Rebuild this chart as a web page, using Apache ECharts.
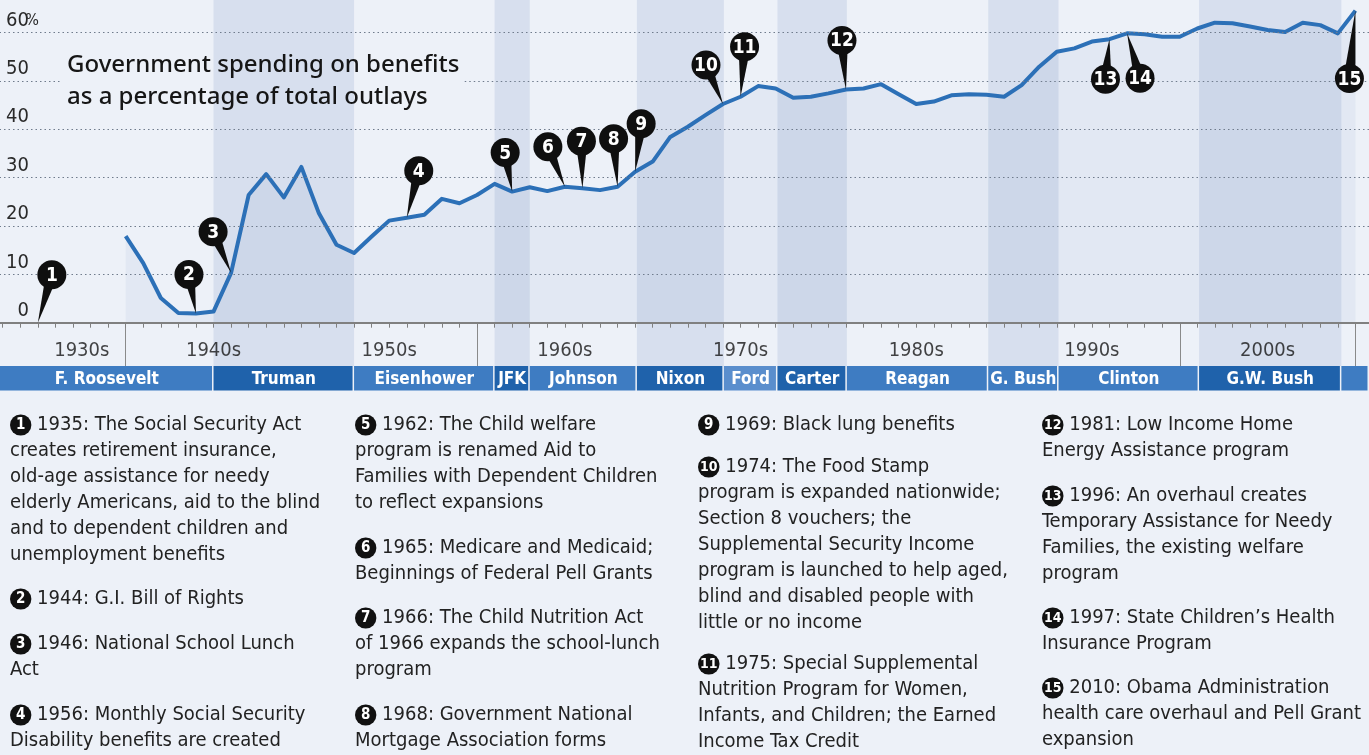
<!DOCTYPE html>
<html>
<head>
<meta charset="utf-8">
<script src="https://cdn.jsdelivr.net/npm/echarts@6/dist/echarts.min.js"></script>
<style>
  html, body { margin: 0; padding: 0; background: #edf1f8; }
  #chart { width: 1369px; height: 755px; }
</style>
</head>
<body>
<div id="chart"></div>
<script>
// Benefit spending as % of total federal outlays
const years = [1940, 1941, 1942, 1943, 1944, 1945, 1946, 1947, 1948, 1949,
               1950, 1951, 1952, 1953, 1954, 1955, 1956, 1957, 1958, 1959,
               1960, 1961, 1962, 1963, 1964, 1965, 1966, 1967, 1968, 1969,
               1970, 1971, 1972, 1973, 1974, 1975, 1976, 1977, 1978, 1979,
               1980, 1981, 1982, 1983, 1984, 1985, 1986, 1987, 1988, 1989,
               1990, 1991, 1992, 1993, 1994, 1995, 1996, 1997, 1998, 1999,
               2000, 2001, 2002, 2003, 2004, 2005, 2006, 2007, 2008, 2009,
               2010];
const benefitShare = [17.9, 12.3, 5.1, 2.0, 1.9, 2.3, 10.3, 26.4, 30.7, 25.9,
                      32.2, 22.6, 16.1, 14.4, 17.8, 21.1, 21.7, 22.3, 25.6, 24.7,
                      26.4, 28.7, 27.1, 28.0, 27.2, 28.1, 27.8, 27.4, 28.1, 31.2,
                      33.3, 38.4, 40.5, 42.9, 45.2, 46.7, 48.9, 48.4, 46.5, 46.7,
                      47.4, 48.2, 48.4, 49.3, 47.2, 45.2, 45.7, 47.0, 47.2, 47.1,
                      46.7, 49.1, 52.9, 56.0, 56.7, 58.1, 58.6, 59.8, 59.6, 59.1,
                      59.1, 60.8, 62.0, 61.9, 61.2, 60.5, 60.1, 62.0, 61.5, 59.8,
                      64.5];

// numbered events
const eventYears = [1935, 1944, 1946, 1956, 1962, 1965, 1966, 1968, 1969, 1974, 1975, 1981, 1996, 1997, 2010];
const eventTexts = [
  '1935: The Social Security Act\ncreates retirement insurance,\nold-age assistance for needy\nelderly Americans, aid to the blind\nand to dependent children and\nunemployment benefits',
  '1944: G.I. Bill of Rights',
  '1946: National School Lunch\nAct',
  '1956: Monthly Social Security\nDisability benefits are created',
  '1962: The Child welfare\nprogram is renamed Aid to\nFamilies with Dependent Children\nto reflect expansions',
  '1965: Medicare and Medicaid;\nBeginnings of Federal Pell Grants',
  '1966: The Child Nutrition Act\nof 1966 expands the school-lunch\nprogram',
  '1968: Government National\nMortgage Association forms',
  '1969: Black lung benefits',
  '1974: The Food Stamp\nprogram is expanded nationwide;\nSection 8 vouchers; the\nSupplemental Security Income\nprogram is launched to help aged,\nblind and disabled people with\nlittle or no income',
  '1975: Special Supplemental\nNutrition Program for Women,\nInfants, and Children; the Earned\nIncome Tax Credit',
  '1981: Low Income Home\nEnergy Assistance program',
  '1996: An overhaul creates\nTemporary Assistance for Needy\nFamilies, the existing welfare\nprogram',
  '1997: State Children\u2019s Health\nInsurance Program',
  '2010: Obama Administration\nhealth care overhaul and Pell Grant\nexpansion'
];

// presidents and term starts
const presidents = ['F. Roosevelt', 'Truman', 'Eisenhower', 'JFK', 'Johnson', 'Nixon', 'Ford',
                    'Carter', 'Reagan', 'G. Bush', 'Clinton', 'G.W. Bush', ''];
const termStarts = [1932.8, 1945.0, 1953.0, 1961.0, 1963.0, 1969.1, 1974.05,
                    1977.1, 1981.05, 1989.1, 1993.1, 2001.1, 2009.2];
const termEnds = termStarts.slice(1).concat([2012]);

const decades = ['1930s', '1940s', '1950s', '1960s', '1970s', '1980s', '1990s', '2000s'];
const decadeCenters = [1937.5, 1945, 1955, 1965, 1975, 1985, 1995, 2005]; // 1930s centred in the visible part

const yTicks = [0, 10, 20, 30, 40, 50, 60];

// ---- layout / style ----
const narrow = '"DejaVu Sans Condensed", "Liberation Sans Narrow", sans-serif';
const pinOffsets = [[14, -48], [-7, -39], [-18, -41], [12, -47], [-7, -39], [-17, -40], [-1, -47],
                    [-4, -48], [6, -48], [-17, -39], [4, -50], [-4, -49], [-4, 40], [13, 45], [-6, 68]];
const noteSpots = [[10, 412], [10, 586], [10, 631], [10, 702],
                   [355, 412], [355, 535], [355, 605], [355, 702],
                   [698, 412], [698, 454], [698, 651],
                   [1042, 412], [1042, 483], [1042, 605], [1042, 675]];
const titleGap = [1936.3, 1959.3];  // the 50 gridline breaks behind the title
const darkBand = [false, true, false, true, false, true, false, true, false, true, false, true, false];
const barColors = ['#3e7cc2', '#1f62ab', '#3e7cc2', '#1f62ab', '#3e7cc2', '#1f62ab', '#5a8ecd',
                   '#1f62ab', '#3e7cc2', '#3e7cc2', '#3e7cc2', '#1f62ab', '#3e7cc2'];
const gridDots = { type: [1.5, 3], color: '#6f7b8c', width: 1 };

const chart = echarts.init(document.getElementById('chart'));

function eventValue(yr) {
  const i = years.indexOf(yr);
  return i >= 0 ? benefitShare[i] : 0;
}

function shadeSeries(idx) {
  return {
    type: 'line', xAxisIndex: idx, yAxisIndex: idx, data: [], z: 0, silent: true,
    markArea: {
      silent: true,
      itemStyle: { color: '#d7dfee' },
      data: presidents.map((p, i) => [{ xAxis: termStarts[i] }, { xAxis: termEnds[i] }])
                      .filter((d, i) => darkBand[i])
    }
  };
}

// dotted gridlines, the 50 line split round the title
const gridLineData = [];
yTicks.forEach(v => {
  if (v === 0) return;
  if (v === 50) {
    gridLineData.push([{ coord: [1930, v] }, { coord: [titleGap[0], v] }]);
    gridLineData.push([{ coord: [titleGap[1], v] }, { coord: [2011, v] }]);
  } else {
    gridLineData.push([{ coord: [1930, v] }, { coord: [2011, v] }]);
  }
});

const gridBase = { left: -50, right: -4, outerBoundsMode: 'none', containLabel: false };

const option = {
  backgroundColor: '#edf1f8',
  animation: false,
  title: {
    text: 'Government spending on benefits\nas a percentage of total outlays',
    left: 58, top: 45,
    padding: [4, 9, 4, 9],
    textStyle: { fontFamily: '"Noto Sans", "Open Sans", sans-serif', fontSize: 24, lineHeight: 32, fontWeight: 500, color: '#161616' }
  },
  grid: [
    Object.assign({ top: -16, height: 338.7 }, gridBase),
    Object.assign({ top: 322.7, height: 43.3 }, gridBase),
    Object.assign({ top: 366, height: 24.5 }, gridBase)
  ],
  xAxis: [
    { gridIndex: 0, type: 'value', min: 1930, max: 2011, interval: 1, z: 2,
      axisLine: { lineStyle: { color: '#808080', width: 2 } },
      axisTick: { length: 5, lineStyle: { color: '#808080', width: 1 } },
      axisLabel: { show: false }, splitLine: { show: false } },
    { gridIndex: 1, type: 'value', min: 1930, max: 2011, interval: 10, z: 1,
      axisLine: { show: false }, axisTick: { show: false }, axisLabel: { show: false },
      splitLine: { show: true, lineStyle: { color: '#8a8a8a', width: 1 } } },
    { gridIndex: 2, type: 'value', min: 1930, max: 2011, show: false }
  ],
  yAxis: [
    { gridIndex: 0, type: 'value', min: 0, max: 70, interval: 10, z: 1,
      axisLine: { show: false }, axisTick: { show: false }, splitLine: { show: false },
      axisLabel: {
        inside: true, margin: 89, align: 'right', verticalAlign: 'bottom', padding: [0, 0, 2, 0],
        formatter: v => yTicks.indexOf(v) < 0 ? '' : (v === 60 ? '{n|60}{p|%}' : '{n|' + v + '}{s|}'),
        rich: {
          n: { fontFamily: narrow, fontSize: 20, color: '#2a2a2a' },
          p: { fontFamily: narrow, fontSize: 16, color: '#2a2a2a', width: 10 },
          s: { width: 10 }
        }
      } },
    { gridIndex: 1, type: 'value', min: 0, max: 1, show: false },
    { gridIndex: 2, type: 'value', min: 0, max: 1, show: false }
  ],
  series: [
    shadeSeries(0),
    shadeSeries(1),
    {
      name: 'Gridlines', type: 'line', xAxisIndex: 0, yAxisIndex: 0, data: [], z: 1, silent: true,
      markLine: { silent: true, symbol: ['none', 'none'], label: { show: false },
                  lineStyle: gridDots, emphasis: { disabled: true }, data: gridLineData }
    },
    {
      name: 'Benefits', type: 'line', xAxisIndex: 0, yAxisIndex: 0, z: 2,
      data: years.map((y, i) => [y, benefitShare[i]]),
      symbol: 'none',
      lineStyle: { color: '#2c70b7', width: 4, join: 'round' },
      areaStyle: { color: 'rgba(40,90,170,0.08)', origin: 'start' }
    },
    {
      name: 'Events', type: 'custom', xAxisIndex: 0, yAxisIndex: 0, z: 5,
      data: eventYears.map((y, i) => [y, eventValue(y), i + 1]),
      renderItem: function (params, api) {
        const tip = api.coord([api.value(0), api.value(1)]);
        const off = pinOffsets[params.dataIndex];
        const cx = tip[0] + off[0], cy = tip[1] + off[1];
        const len = Math.hypot(off[0], off[1]);
        const px = -off[1] / len * 6, py = off[0] / len * 6;
        return {
          type: 'group',
          children: [
            { type: 'polygon', shape: { points: [[tip[0], tip[1]], [cx + px, cy + py], [cx - px, cy - py]] },
              style: { fill: '#0f0f0f' } },
            { type: 'circle', shape: { cx: cx, cy: cy, r: 14.5 }, style: { fill: '#0f0f0f' } },
            { type: 'text', x: cx, y: cy + 1,
              style: { text: String(api.value(2)), fill: '#fff', align: 'center', verticalAlign: 'middle',
                       font: 'bold 19px ' + narrow } }
          ]
        };
      }
    },
    {
      name: 'Decades', type: 'scatter', xAxisIndex: 1, yAxisIndex: 1, z: 3, silent: true,
      symbolSize: 1, itemStyle: { color: 'rgba(0,0,0,0)' },
      data: decades.map((d, i) => [decadeCenters[i], 0.36, d]),
      label: { show: true, position: 'inside', formatter: p => p.data[2],
               fontFamily: narrow, fontSize: 20, color: '#151515' }
    },
    {
      name: 'Presidents', type: 'custom', xAxisIndex: 2, yAxisIndex: 2, z: 3, silent: true,
      data: presidents.map((p, i) => [termStarts[i], termEnds[i], i]),
      renderItem: function (params, api) {
        const cs = params.coordSys;
        const i = api.value(2);
        let x1 = api.coord([api.value(0), 0])[0];
        let x2 = api.coord([api.value(1), 0])[0];
        x1 = Math.max(x1, 0);
        x2 = Math.min(x2, 1369);
        return {
          type: 'group',
          children: [
            { type: 'rect', shape: { x: x1, y: cs.y, width: x2 - x1 - 1.5, height: cs.height },
              style: { fill: barColors[i] } },
            { type: 'text', x: (x1 + x2) / 2, y: cs.y + cs.height / 2 + 1,
              style: { text: presidents[i], fill: '#fff', align: 'center', verticalAlign: 'middle',
                       font: 'bold 17px ' + narrow } }
          ]
        };
      }
    }
  ],
  graphic: eventTexts.map((t, i) => ({
    type: 'text', x: noteSpots[i][0], y: noteSpots[i][1], silent: true,
    style: {
      text: '{' + (i < 9 ? 'a' : 'b') + '|' + (i + 1) + '} ' + t,
      fill: '#222', fontFamily: narrow, fontSize: 20, lineHeight: 26, verticalAlign: 'top',
      rich: {
        a: { backgroundColor: '#111', fill: '#fff', height: 21, borderRadius: 11, padding: [0, 6],
             fontFamily: narrow, fontSize: 15, fontWeight: 'bold', lineHeight: 21 },
        b: { backgroundColor: '#111', fill: '#fff', height: 21, borderRadius: 11, padding: [0, 2],
             fontFamily: narrow, fontSize: 14, fontWeight: 'bold', lineHeight: 21 }
      }
    }
  }))
};

chart.setOption(option);
</script>
</body>
</html>
